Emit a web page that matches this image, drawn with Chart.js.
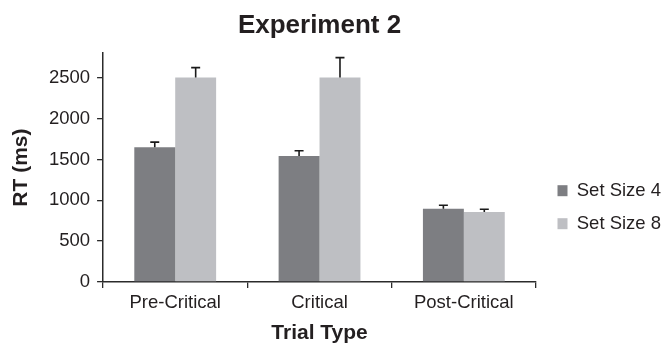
<!DOCTYPE html>
<html>
<head>
<meta charset="utf-8">
<script src="https://cdn.jsdelivr.net/npm/chart.js@4"></script>
<style>
  html, body { margin: 0; padding: 0; background: #ffffff; }
  canvas { display: block; }
</style>
</head>
<body>
<canvas id="c" width="662" height="344"></canvas>
<script>
// ---- data ----
const categories = ['Pre-Critical', 'Critical', 'Post-Critical'];
const seriesNames = ['Set Size 4', 'Set Size 8'];
const setSize4 = [1650, 1542, 895];
const setSize8 = [2503, 2503, 858];
const setSize4Err = [62, 64, 45];
const setSize8Err = [120, 243, 33];
const yTicks = [0, 500, 1000, 1500, 2000, 2500];
const yMax = 2800;

const errors = [setSize4Err, setSize8Err];
const textColor = '#231f20';
const axisColor = '#2b2b2b';
Chart.defaults.font.family = "'Liberation Sans', Arial, sans-serif";
Chart.defaults.color = textColor;

const errorBars = {
  id: 'errorBars',
  afterDatasetsDraw(chart) {
    const ctx = chart.ctx;
    const y = chart.scales.y;
    chart.data.datasets.forEach((ds, i) => {
      const meta = chart.getDatasetMeta(i);
      meta.data.forEach((bar, j) => {
        const v = ds.data[j];
        const e = errors[i][j];
        const yb = y.getPixelForValue(v);
        const yt = y.getPixelForValue(v + e);
        ctx.save();
        ctx.strokeStyle = '#1a1a1a';
        ctx.lineWidth = 1.6;
        ctx.beginPath();
        ctx.moveTo(bar.x, yb);
        ctx.lineTo(bar.x, yt);
        ctx.moveTo(bar.x - 4.5, yt);
        ctx.lineTo(bar.x + 4.5, yt);
        ctx.stroke();
        ctx.restore();
      });
    });
  }
};

new Chart(document.getElementById('c'), {
  type: 'bar',
  data: {
    labels: categories,
    datasets: [
      { label: seriesNames[0], data: setSize4, backgroundColor: '#7d7e82', categoryPercentage: 0.567, barPercentage: 1.0 },
      { label: seriesNames[1], data: setSize8, backgroundColor: '#bebfc3', categoryPercentage: 0.567, barPercentage: 1.0 }
    ]
  },
  options: {
    responsive: false,
    animation: false,
    layout: { padding: 0 },
    plugins: {
      tooltip: { enabled: false },
      title: {
        display: true,
        text: 'Experiment 2',
        fullSize: false,
        color: textColor,
        font: { size: 26, weight: 'bold' },
        padding: { top: 10, bottom: 12 }
      },
      legend: {
        position: 'right',
        align: 'center',
        maxWidth: 119,
        title: { display: true, text: '', font: { size: 12 }, padding: { top: 56, bottom: 0 } },
        labels: {
          boxWidth: 10,
          boxHeight: 11,
          padding: 14.5,
          color: textColor,
          font: { size: 18.5 }
        }
      }
    },
    scales: {
      x: {
        grid: { display: true, drawOnChartArea: false, drawTicks: true, tickLength: 6, color: axisColor, lineWidth: 1.3, offset: true },
        border: { display: true, color: axisColor, width: 1.5 },
        ticks: { color: textColor, font: { size: 18.5 }, padding: 4, maxRotation: 0 },
        title: { display: true, text: 'Trial Type', color: textColor, font: { size: 21, weight: 'bold' }, padding: { top: 2.6, bottom: -2 } }
      },
      y: {
        min: 0,
        max: yMax,
        afterBuildTicks(scale) { scale.ticks = yTicks.map(v => ({ value: v })); },
        grid: { display: true, drawOnChartArea: false, drawTicks: true, tickLength: 6, color: axisColor, lineWidth: 1.3 },
        border: { display: true, color: axisColor, width: 1.5 },
        ticks: { color: textColor, font: { size: 18.5 }, padding: 7, callback: v => String(v) },
        title: { display: true, text: 'RT (ms)', color: textColor, font: { size: 21, weight: 'bold' }, padding: { top: 9, bottom: 7.7 } }
      },
      yR: {
        type: 'linear',
        position: 'right',
        display: true,
        grid: { display: false },
        border: { display: false },
        ticks: { display: false },
        afterFit(scale) { scale.width = 7; }
      }
    }
  },
  plugins: [errorBars]
});
</script>
</body>
</html>
